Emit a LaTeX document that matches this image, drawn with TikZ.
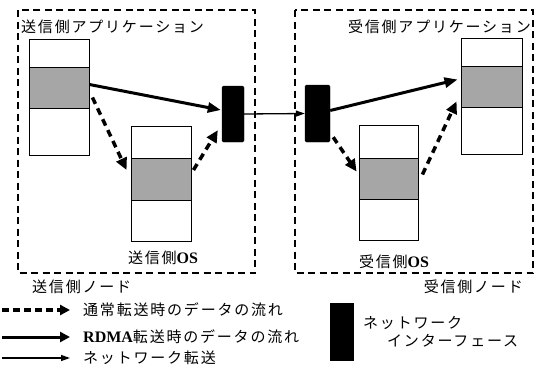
\documentclass[tikz,border=0pt]{standalone}
\usepackage{fontspec}
\setmainfont{Noto Sans CJK JP}
\newfontfamily\jp[LetterSpace=12]{Noto Sans CJK JP}
\newfontfamily\lat{Liberation Serif}
\usetikzlibrary{arrows.meta,calc}
\begin{document}
\begin{tikzpicture}[x=1pt,y=-1pt,
  cell/.style={draw,line width=0.9pt,fill=white,inner sep=0pt},
  shade/.style={cell,fill=black!35},
  nic/.style={fill=black,draw=black,rounded corners=1.5pt,inner sep=0pt},
  region/.style={draw,line width=1.2pt,dash pattern=on 7pt off 4.5pt},
  lbl/.style={font=\jp\fontsize{15}{17}\selectfont,inner sep=0pt},
  rdma/.style={line width=3pt,-{Triangle[length=13pt,width=10pt]}},
  normal/.style={line width=3.5pt,dash pattern=on 7pt off 5pt,-{Triangle[length=12pt,width=11pt]}},
  net/.style={line width=1.3pt,-{Triangle[length=9pt,width=6pt]}}]
\useasboundingbox (0,0) rectangle (542,368);
% regions
\draw[region] (18,10) rectangle (255,273);
\draw[region] (295,10) rectangle (533,273);
\node[lbl,anchor=west] (tsa) at (21,27) {送信側アプリケーション};
\node[lbl,anchor=east] (rsa) at (531,27) {受信側アプリケーション};
% left app stack
\node[cell,minimum width=60pt,minimum height=28pt] (laT) at (59,53) {};
\node[shade,minimum width=60pt,minimum height=41pt] (laM) at (59,87.5) {};
\node[cell,minimum width=60pt,minimum height=47pt] (laB) at (59,131.5) {};
% left OS stack
\node[cell,minimum width=60pt,minimum height=32pt] (loT) at (161,142) {};
\node[shade,minimum width=60pt,minimum height=42pt] (loM) at (161,179) {};
\node[cell,minimum width=60pt,minimum height=41pt] (loB) at (161,220.5) {};
\node[lbl,anchor=center] (los) at (163,258) {送信側{\lat\bfseries\fontsize{16}{17}\selectfont OS}};
% right app stack
\node[cell,minimum width=61pt,minimum height=28pt] (raT) at (491.5,52) {};
\node[shade,minimum width=61pt,minimum height=41pt] (raM) at (491.5,86.5) {};
\node[cell,minimum width=61pt,minimum height=47pt] (raB) at (491.5,130.5) {};
% right OS stack
\node[cell,minimum width=59pt,minimum height=33pt] (roT) at (388.5,141.5) {};
\node[shade,minimum width=59pt,minimum height=41pt] (roM) at (388.5,178.5) {};
\node[cell,minimum width=59pt,minimum height=41pt] (roB) at (388.5,219.5) {};
\node[lbl,anchor=center] (ros) at (394,262) {受信側{\lat\bfseries\fontsize{16}{17}\selectfont OS}};
% NICs
\node[nic,minimum width=22pt,minimum height=56pt] (nicL) at (233,114) {};
\node[nic,minimum width=25pt,minimum height=57pt] (nicR) at (317.5,113.5) {};
% arrows
\draw[net] (nicL.east) -- (nicR.west);
\draw[rdma] ($(laM.east)+(0,-3)$) -- ($(nicL.west)+(-1,-4)$);
\draw[normal] ($(laM.east)+(3,10)$) -- ($(loM.west)+(-4,-9)$);
\draw[normal] ($(loM.east)+(2,-9)$) -- ($(nicL.south west)+(-4,-12)$);
\draw[rdma] ($(nicR.east)+(0,-3)$) -- ($(raM.west)+(-3,-7)$);
\draw[normal] ($(nicR.south east)+(3,-5)$) -- ($(roM.west)+(-2,-7)$);
\draw[normal] ($(roM.east)+(4,-4)$) -- ($(raM.south west)+(-4,-6)$);
% node labels
\node[lbl,anchor=west] (sn) at (32,287) {送信側ノード};
\node[lbl,anchor=east] (rn) at (523,287) {受信側ノード};
% legend
\coordinate (l1a) at (2,310); \coordinate (l1b) at (70,310);
\coordinate (l2a) at (2,337); \coordinate (l2b) at (70,337);
\coordinate (l3a) at (2,358); \coordinate (l3b) at (70,358);
\draw[line width=3.5pt,dash pattern=on 7pt off 4pt,-{Triangle[length=10pt,width=10pt]}] (l1a) -- (l1b);
\draw[line width=3pt,-{Triangle[length=10pt,width=10pt]}] (l2a) -- (l2b);
\draw[net] (l3a) -- (l3b);
\node[lbl,anchor=west] (t1) at (83,310) {通常転送時のデータの流れ};
\node[lbl,anchor=west] (t2) at (83,337) {{\lat\bfseries\fontsize{16}{17}\selectfont RDMA}転送時のデータの流れ};
\node[lbl,anchor=west] (t3) at (83,358) {ネットワーク転送};
\node[nic,rounded corners=0pt,minimum width=23pt,minimum height=57pt] (nicK) at (341.5,331.5) {};
\node[lbl,anchor=west] (k1) at (363,323) {ネットワーク};
\node[lbl,anchor=west] (k2) at (387,341) {インターフェース};
\end{tikzpicture}
\end{document}
